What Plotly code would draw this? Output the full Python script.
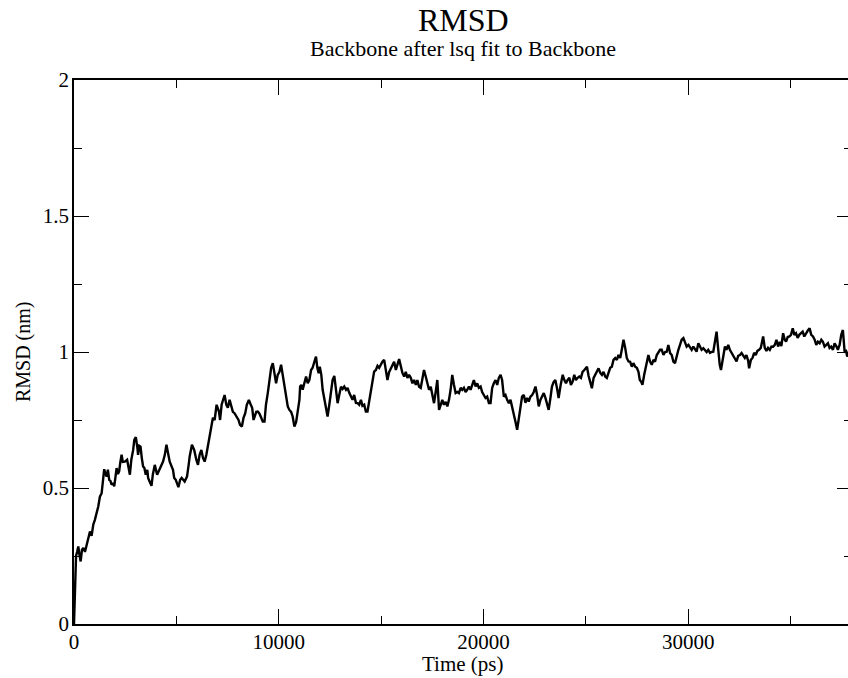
import plotly.graph_objects as go

# RMSD trace, (time in ps, RMSD in nm), in segments
seg_0_5ns = [
    (0, 0.0), (25, 0.09), (50, 0.18), (100, 0.25), (150, 0.265), (210, 0.285), (265, 0.255),
    (325, 0.23), (390, 0.273), (455, 0.28), (535, 0.265), (620, 0.288), (705, 0.317), (780, 0.34),
    (860, 0.324), (940, 0.365), (1020, 0.383), (1105, 0.405), (1185, 0.432), (1265, 0.468),
    (1350, 0.481), (1410, 0.523), (1475, 0.569), (1535, 0.552), (1595, 0.542), (1655, 0.567),
    (1720, 0.53), (1780, 0.526), (1835, 0.512), (1900, 0.519), (1965, 0.506), (2020, 0.537),
    (2080, 0.573), (2145, 0.552), (2205, 0.561), (2265, 0.596), (2325, 0.622), (2385, 0.596),
    (2485, 0.597), (2595, 0.604), (2655, 0.574), (2730, 0.549), (2800, 0.604), (2890, 0.64),
    (2945, 0.677), (3020, 0.687), (3095, 0.648), (3130, 0.622), (3190, 0.655), (3250, 0.652),
    (3310, 0.611), (3375, 0.579), (3435, 0.574), (3505, 0.549), (3580, 0.567), (3620, 0.537),
    (3700, 0.523), (3785, 0.508), (3850, 0.549), (3945, 0.585), (4060, 0.549), (4190, 0.573),
    (4350, 0.597), (4435, 0.622), (4515, 0.659), (4580, 0.633), (4675, 0.597), (4835, 0.567),
    (4895, 0.537), (4970, 0.53),
]
seg_5_10ns = [
    (5100, 0.503), (5185, 0.53), (5260, 0.537), (5405, 0.524), (5520, 0.542), (5600, 0.585),
    (5650, 0.616), (5760, 0.659), (5870, 0.64), (5975, 0.604), (6055, 0.585), (6135, 0.622),
    (6220, 0.64), (6300, 0.611), (6380, 0.597), (6465, 0.622), (6540, 0.652), (6625, 0.695),
    (6720, 0.732), (6785, 0.758), (6870, 0.75), (6965, 0.806), (7080, 0.781), (7135, 0.75),
    (7210, 0.806), (7355, 0.842), (7440, 0.806), (7515, 0.795), (7600, 0.824), (7680, 0.802),
    (7760, 0.78), (7840, 0.775), (7955, 0.758), (8035, 0.75), (8110, 0.732), (8200, 0.726),
    (8280, 0.758), (8365, 0.775), (8440, 0.806), (8540, 0.824), (8620, 0.809), (8705, 0.794),
    (8770, 0.75), (8815, 0.758), (8900, 0.78), (8975, 0.781), (9060, 0.773), (9145, 0.758),
    (9220, 0.744), (9305, 0.744), (9375, 0.806), (9465, 0.849), (9545, 0.905), (9630, 0.942),
    (9710, 0.959), (9790, 0.927), (9870, 0.885), (9950, 0.916),
]
seg_10_15ns = [
    (10035, 0.927), (10115, 0.953), (10195, 0.916), (10280, 0.885), (10360, 0.849), (10440, 0.8),
    (10520, 0.787), (10605, 0.78), (10680, 0.763), (10765, 0.726), (10850, 0.743), (10925, 0.776),
    (11010, 0.824), (11045, 0.873), (11105, 0.879), (11170, 0.861), (11250, 0.885), (11335, 0.91),
    (11415, 0.885), (11495, 0.897), (11580, 0.934), (11655, 0.942), (11740, 0.964), (11820, 0.983),
    (11885, 0.942), (11950, 0.922), (12005, 0.946), (12080, 0.916), (12145, 0.861), (12225, 0.824),
    (12310, 0.787), (12385, 0.763), (12470, 0.806), (12550, 0.853), (12630, 0.897), (12715, 0.912),
    (12795, 0.861), (12875, 0.812), (12955, 0.842), (13040, 0.872), (13120, 0.864), (13200, 0.873),
    (13285, 0.861), (13360, 0.868), (13445, 0.85), (13525, 0.835), (13605, 0.824), (13685, 0.842),
    (13770, 0.813), (13850, 0.812), (13930, 0.806), (14015, 0.824), (14090, 0.802), (14175, 0.806),
    (14255, 0.781), (14335, 0.781), (14420, 0.824), (14500, 0.861), (14580, 0.905), (14660, 0.928),
    (14745, 0.934), (14825, 0.949), (14905, 0.942), (14990, 0.956),
]
seg_15_20ns = [
    (15065, 0.964), (15150, 0.971), (15230, 0.934), (15310, 0.897), (15395, 0.927), (15475, 0.94),
    (15555, 0.953), (15635, 0.964), (15720, 0.934), (15800, 0.956), (15880, 0.974), (15960, 0.949),
    (16040, 0.923), (16125, 0.91), (16205, 0.927), (16285, 0.905), (16365, 0.916), (16450, 0.905),
    (16530, 0.885), (16610, 0.897), (16695, 0.879), (16770, 0.897), (16855, 0.872), (16935, 0.868),
    (17015, 0.897), (17095, 0.934), (17180, 0.91), (17260, 0.879), (17340, 0.861), (17425, 0.872),
    (17500, 0.849), (17585, 0.812), (17665, 0.853), (17745, 0.897), (17830, 0.787), (17910, 0.806),
    (17990, 0.824), (18070, 0.806), (18155, 0.817), (18235, 0.8), (18315, 0.824), (18395, 0.861),
    (18475, 0.916), (18560, 0.879), (18640, 0.849), (18720, 0.853), (18800, 0.849), (18885, 0.868),
    (18965, 0.861), (19045, 0.868), (19125, 0.853), (19205, 0.861), (19290, 0.873), (19370, 0.861),
    (19450, 0.883), (19530, 0.897), (19615, 0.873), (19695, 0.885), (19775, 0.868), (19860, 0.873),
    (19935, 0.853),
]
seg_20_25ns = [
    (20020, 0.842), (20100, 0.831), (20180, 0.836), (20265, 0.812), (20345, 0.812), (20425, 0.868),
    (20505, 0.885), (20590, 0.897), (20670, 0.879), (20750, 0.905), (20835, 0.916), (20910, 0.897),
    (20995, 0.836), (21075, 0.842), (21155, 0.824), (21240, 0.812), (21320, 0.824), (21400, 0.8),
    (21480, 0.769), (21565, 0.743), (21645, 0.714), (21725, 0.75), (21805, 0.787), (21885, 0.836),
    (21970, 0.842), (22050, 0.813), (22130, 0.831), (22210, 0.818), (22295, 0.836), (22375, 0.842),
    (22455, 0.853), (22540, 0.873), (22620, 0.842), (22700, 0.8), (22780, 0.824), (22860, 0.836),
    (22945, 0.849), (23025, 0.831), (23105, 0.812), (23185, 0.787), (23270, 0.831), (23345, 0.873),
    (23430, 0.89), (23510, 0.897), (23590, 0.868), (23670, 0.831), (23770, 0.879), (23870, 0.916),
    (23950, 0.897), (24030, 0.885), (24110, 0.897), (24195, 0.905), (24270, 0.879), (24355, 0.891),
    (24435, 0.916), (24515, 0.897), (24600, 0.905), (24680, 0.91), (24760, 0.905), (24840, 0.927),
    (24925, 0.934), (25005, 0.942),
]
seg_25_30ns = [
    (25055, 0.946), (25135, 0.912), (25215, 0.886), (25295, 0.867), (25380, 0.905), (25460, 0.916),
    (25540, 0.928), (25620, 0.94), (25705, 0.923), (25785, 0.916), (25865, 0.927), (25945, 0.91),
    (26025, 0.905), (26110, 0.923), (26190, 0.942), (26270, 0.946), (26350, 0.971), (26435, 0.978),
    (26515, 0.971), (26595, 0.989), (26680, 0.978), (26755, 1.008), (26840, 1.045), (26920, 1.016),
    (27000, 0.978), (27085, 0.965), (27165, 0.964), (27245, 0.946), (27325, 0.959), (27410, 0.946),
    (27490, 0.942), (27570, 0.927), (27635, 0.897), (27700, 0.891), (27765, 0.879), (27850, 0.916),
    (27925, 0.942), (28010, 0.971), (28055, 0.989), (28140, 0.964), (28220, 0.953), (28300, 0.971),
    (28380, 0.964), (28465, 0.989), (28545, 1.0), (28625, 1.008), (28705, 1.008), (28790, 0.989),
    (28870, 1.0), (28950, 1.001), (29030, 1.026), (29115, 0.996), (29195, 0.989), (29275, 0.965),
    (29355, 0.959), (29440, 0.989), (29520, 1.008), (29600, 1.026), (29680, 1.045), (29765, 1.051),
    (29845, 1.037), (29925, 1.02),
]
seg_30_38ns = [
    (30010, 1.026), (30090, 1.015), (30170, 1.008), (30250, 1.02), (30335, 1.008), (30410, 1.001),
    (30495, 1.032), (30575, 1.019), (30655, 1.008), (30740, 1.014), (30820, 1.008), (30900, 1.0),
    (30980, 1.008), (31065, 0.997), (31145, 1.0), (31225, 1.001), (31295, 1.033), (31385, 1.075),
    (31445, 1.026), (31495, 0.986), (31540, 0.953), (31600, 0.934), (31665, 0.964), (31725, 1.0),
    (31795, 1.02), (31870, 1.008), (31955, 1.026), (32035, 1.008), (32115, 0.997), (32195, 0.989),
    (32280, 0.978), (32360, 0.965), (32440, 0.986), (32525, 0.989), (32605, 0.996), (32685, 0.986),
    (32765, 0.978), (32845, 0.989), (32930, 0.967), (32975, 0.94), (33060, 0.971), (33140, 0.978),
    (33220, 0.997), (33300, 0.989), (33380, 1.004), (33460, 1.008), (33545, 1.015), (33660, 1.057),
    (33740, 1.015), (33820, 1.004), (33900, 1.015), (33985, 1.008), (34065, 1.02), (34145, 1.019),
    (34230, 1.026), (34310, 1.045), (34390, 1.02), (34470, 1.037), (34550, 1.022), (34635, 1.069),
    (34715, 1.045), (34780, 1.038), (34860, 1.055), (34940, 1.057), (35020, 1.063), (35105, 1.087),
    (35185, 1.063), (35265, 1.069), (35345, 1.052), (35425, 1.063), (35510, 1.069), (35590, 1.075),
    (35670, 1.057), (35750, 1.069), (35835, 1.078), (35930, 1.087), (36010, 1.063), (36095, 1.057),
    (36175, 1.045), (36255, 1.026), (36335, 1.038), (36420, 1.032), (36500, 1.045), (36580, 1.037),
    (36660, 1.02), (36745, 1.026), (36825, 1.032), (36905, 1.015), (36985, 1.02), (37070, 1.008),
    (37150, 1.032), (37230, 1.022), (37310, 1.008), (37395, 1.026), (37475, 1.063), (37555, 1.081),
    (37640, 1.0), (37700, 1.008), (37765, 0.983), (37845, 1.0), (37945, 0.989),
]

points = seg_0_5ns + seg_5_10ns + seg_10_15ns + seg_15_20ns + seg_20_25ns + seg_25_30ns + seg_30_38ns
time_ps = [p[0] for p in points]
rmsd_nm = [p[1] for p in points]

title_text = "RMSD"
subtitle_text = "Backbone after lsq fit to Backbone"
x_title = "Time (ps)"
y_title = "RMSD (nm)"

FONT = "Liberation Serif, Times New Roman, serif"

fig = go.Figure(
    go.Scatter(x=time_ps, y=rmsd_nm, mode="lines",
               line=dict(color="black", width=2.4), hoverinfo="skip")
)

axis_common = dict(
    showline=True, linecolor="black", linewidth=1.6, mirror="ticks",
    ticks="inside", ticklen=15, tickwidth=1.4, tickcolor="black",
    showgrid=False, zeroline=False,
    tickfont=dict(family=FONT, size=21, color="black"),
)

fig.update_xaxes(range=[0, 38000], tickmode="linear", tick0=0, dtick=10000,
                 tickformat="d", ticklabelstandoff=-2,
                 minor=dict(tickmode="linear", tick0=0, dtick=5000, ticks="inside",
                            ticklen=8, tickwidth=1.4, tickcolor="black", showgrid=False),
                 **axis_common)
fig.update_yaxes(range=[0, 2], tickmode="linear", tick0=0, dtick=0.5,
                 ticklabelstandoff=-1,
                 minor=dict(tickmode="linear", tick0=0, dtick=0.25, ticks="inside",
                            ticklen=8, tickwidth=1.4, tickcolor="black", showgrid=False),
                 **axis_common)

fig.update_layout(
    width=862, height=678,
    margin=dict(l=74, r=8, t=80, b=54),
    paper_bgcolor="white", plot_bgcolor="white",
    showlegend=False,
    font=dict(family=FONT, color="black"),
    annotations=[
        dict(text=title_text, xref="paper", yref="paper", x=0.5, y=1.110,
             xanchor="center", yanchor="middle", showarrow=False,
             font=dict(family=FONT, size=32, color="black")),
        dict(text=subtitle_text, xref="paper", yref="paper", x=0.5, y=1.0588,
             xanchor="center", yanchor="middle", showarrow=False,
             font=dict(family=FONT, size=22, color="black")),
        dict(text=x_title, xref="paper", yref="paper", x=0.5, y=-0.0735,
             xanchor="center", yanchor="middle", showarrow=False,
             font=dict(family=FONT, size=21, color="black")),
        dict(text=y_title, xref="paper", yref="paper", x=-0.0654, y=0.5,
             xanchor="center", yanchor="middle", showarrow=False, textangle=-90,
             font=dict(family=FONT, size=20, color="black")),
    ],
)

fig.write_html(
    "out.html",
    post_script="document.documentElement.style.overflow='hidden';document.body.style.overflow='hidden';",
)
